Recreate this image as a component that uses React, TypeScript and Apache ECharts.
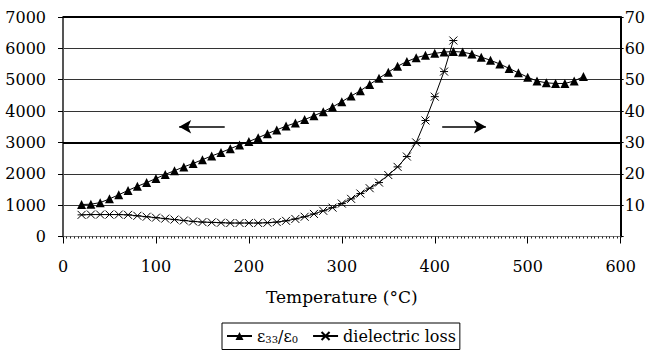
import React, { useEffect, useRef } from "react";
import * as echarts from "echarts";

const temps = [20,30,40,50,60,70,80,90,100,110,120,130,140,150,160,170,180,190,200,210,220,230,240,250,260,270,280,290,300,310,320,330,340,350,360,370,380,390,400,410,420,430,440,450,460,470,480,490,500,510,520,530,540,550,560];
const permittivity = [1020,1030,1080,1200,1330,1470,1600,1720,1850,1980,2100,2220,2330,2450,2570,2680,2800,2920,3030,3150,3280,3400,3520,3620,3730,3850,3980,4130,4300,4480,4650,4850,5050,5240,5430,5580,5700,5780,5840,5880,5900,5880,5820,5720,5620,5500,5360,5220,5080,4960,4900,4880,4880,4960,5100];
const lossTemps = [20,30,40,50,60,70,80,90,100,110,120,130,140,150,160,170,180,190,200,210,220,230,240,250,260,270,280,290,300,310,320,330,340,350,360,370,380,390,400,410,420];
const loss = [6.9,7.0,7.0,7.0,7.0,6.9,6.6,6.3,6.0,5.7,5.4,5.1,4.8,4.6,4.5,4.4,4.3,4.3,4.3,4.3,4.4,4.6,5.0,5.6,6.3,7.2,8.2,9.2,10.5,12.0,13.7,15.4,17.2,19.6,22.2,25.5,30.0,37.0,44.6,52.6,62.5];
const leftTicks = { min: 0, max: 7000, interval: 1000 };
const rightTicks = { min: 0, max: 70, interval: 10 };
const xTicks = { min: 0, max: 600, interval: 100 };
const thickLines = [3000, 7000];
const leftArrow = { from: [174, 35], to: [125, 35] };
const rightArrow = { from: [408, 35], to: [455, 35] };
const names = { eps: "ε33/ε0", loss: "dielectric loss" };

const FONT = "DejaVu Serif";
const STAR = "path://M0,0L10,10M10,0L0,10M0,5L10,5";

export default function App() {
  const ref = useRef<HTMLDivElement>(null);
  useEffect(() => {
    if (!ref.current) return;
    const chart = echarts.init(ref.current, null, { renderer: "svg" });
    chart.setOption({
      animation: false,
      backgroundColor: "#fff",
      textStyle: { fontFamily: FONT },
      grid: { left: 63, right: 25, top: 17, bottom: 114.5, containLabel: false },
      xAxis: {
        type: "value",
        min: xTicks.min,
        max: xTicks.max,
        interval: xTicks.interval,
        name: "Temperature (°C)",
        nameLocation: "middle",
        nameGap: 52,
        nameTextStyle: { fontFamily: FONT, fontSize: 17, color: "#000" },
        axisLine: { show: true, lineStyle: { color: "#777", width: 1 } },
        axisTick: { show: true, length: 7, lineStyle: { color: "#000", width: 1 } },
        minorTick: { show: true, splitNumber: 25, length: 2, lineStyle: { color: "#222", width: 1 } },
        axisLabel: { margin: 22, fontFamily: FONT, fontSize: 16, color: "#000", formatter: (v: number) => String(v) },
        splitLine: { show: false },
      },
      yAxis: [
        {
          type: "value",
          min: leftTicks.min,
          max: leftTicks.max,
          interval: leftTicks.interval,
          position: "left",
          axisLine: { show: true, lineStyle: { color: "#555", width: 2 } },
          axisTick: { show: true, length: 5, lineStyle: { color: "#000" } },
          axisLabel: { margin: 17, fontFamily: FONT, fontSize: 16, color: "#000", formatter: (v: number) => String(v) },
          splitLine: { show: true, lineStyle: { color: "#333", width: 1 } },
        },
        {
          type: "value",
          min: rightTicks.min,
          max: rightTicks.max,
          interval: rightTicks.interval,
          position: "right",
          axisLine: { show: true, lineStyle: { color: "#000", width: 2 } },
          axisTick: { show: true, length: 3, lineStyle: { color: "#000" } },
          axisLabel: {
            margin: 4,
            fontFamily: FONT,
            fontSize: 16,
            color: "#000",
            formatter: (v: number) => (v === 0 ? "" : String(v)),
          },
          splitLine: { show: false },
        },
      ],
      legend: {
        left: 222,
        top: 323,
        orient: "horizontal",
        borderColor: "#000",
        borderWidth: 1,
        borderRadius: 0,
        padding: [5, 4, 5, 4],
        itemGap: 14,
        itemWidth: 25,
        itemHeight: 10,
        data: [names.eps, names.loss],
        formatter: (n: string) => (n === names.eps ? "{a|ε}{s|33}{a|/ε}{s|0}" : n),
        textStyle: {
          fontFamily: FONT,
          fontSize: 16,
          color: "#000",
          rich: {
            a: { fontFamily: FONT, fontSize: 16, color: "#000" },
            s: { fontFamily: FONT, fontSize: 10, color: "#000", verticalAlign: "bottom", padding: [7, 0, 0, 0] },
          },
        },
      },
      series: [
        {
          name: names.eps,
          type: "line",
          yAxisIndex: 0,
          data: temps.map((t, i) => [t, permittivity[i]]),
          symbol: "triangle",
          symbolSize: 9,
          itemStyle: { color: "#000" },
          lineStyle: { color: "#000", width: 1 },
          markLine: {
            silent: true,
            symbol: "none",
            label: { show: false },
            lineStyle: { color: "#000", width: 2, type: "solid" },
            data: thickLines.map((v) => ({ yAxis: v })),
          },
        },
        {
          name: names.loss,
          type: "line",
          yAxisIndex: 1,
          data: lossTemps.map((t, i) => [t, loss[i]]),
          symbol: STAR,
          symbolSize: 8,
          itemStyle: { color: "#000", borderColor: "#000", borderWidth: 1 },
          lineStyle: { color: "#000", width: 1 },
          markLine: {
            silent: true,
            symbol: ["none", "arrow"],
            symbolSize: [10, 12],
            label: { show: false },
            lineStyle: { color: "#000", width: 1.5, type: "solid" },
            data: [
              [{ coord: leftArrow.from }, { coord: leftArrow.to }],
              [{ coord: rightArrow.from }, { coord: rightArrow.to }],
            ],
          },
        },
      ],
    });
    return () => chart.dispose();
  }, []);
  return (
    <div
      ref={ref}
      style={{ position: "fixed", left: 0, top: 0, width: 648, height: 351, background: "#fff" }}
    />
  );
}
